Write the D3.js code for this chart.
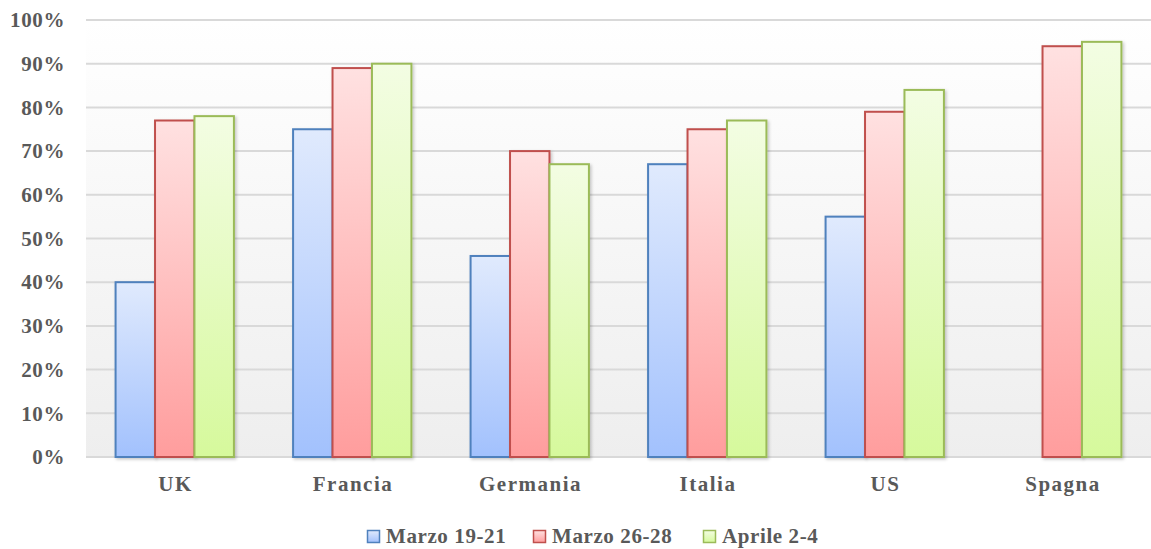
<!DOCTYPE html>
<html>
<head>
<meta charset="utf-8">
<script src="https://cdn.jsdelivr.net/npm/d3@7"></script>
<style>
  html, body { margin: 0; padding: 0; background: #ffffff; }
  svg { display: block; }
  .lbl { font-family: "Liberation Serif", "Times New Roman", "DejaVu Serif", serif; font-weight: bold; fill: #595959; font-size: 21px; letter-spacing: 0.6px; }
  .cat { letter-spacing: 1.5px; }
</style>
</head>
<body>
<svg id="chart" width="1151" height="549"></svg>
<script>
// Countries along the x axis
const categories = ["UK", "Francia", "Germania", "Italia", "US", "Spagna"];
// Survey waves (legend entries)
const seriesNames = ["Marzo 19-21", "Marzo 26-28", "Aprile 2-4"];
// Share of respondents per wave, in percent (null = not surveyed)
const marzo1921 = [40, 75, 46, 67, 55, null];
const marzo2628 = [77, 89, 70, 75, 79, 94];
const aprile24  = [78, 90, 67, 77, 84, 95];
// Y axis tick values, in percent
const yTicks = [0, 10, 20, 30, 40, 50, 60, 70, 80, 90, 100];

const seriesValues = [marzo1921, marzo2628, aprile24];
const palette = [
  { top: "#e0eafd", bottom: "#a2c1fd", stroke: "#4f81bd" },
  { top: "#ffe1e1", bottom: "#ff9d9d", stroke: "#c0504d" },
  { top: "#f3fde3", bottom: "#d6f99c", stroke: "#9bbb59" }
];

const svg = d3.select("#chart");
const margin = { left: 86, right: 0, top: 20, bottom: 92 };
const W = 1151, H = 549;
const plotW = W - margin.left - margin.right;
const plotH = H - margin.top - margin.bottom;

const defs = svg.append("defs");
const bg = defs.append("linearGradient").attr("id", "plotBg")
  .attr("x1", 0).attr("y1", 0).attr("x2", 0).attr("y2", 1);
bg.append("stop").attr("offset", "0%").attr("stop-color", "#ffffff");
bg.append("stop").attr("offset", "100%").attr("stop-color", "#eeeeee");

palette.forEach((p, i) => {
  const g = defs.append("linearGradient").attr("id", "barFill" + i)
    .attr("x1", 0).attr("y1", 0).attr("x2", 0).attr("y2", 1);
  g.append("stop").attr("offset", "0%").attr("stop-color", p.top);
  g.append("stop").attr("offset", "100%").attr("stop-color", p.bottom);
});

const shadow = defs.append("filter").attr("id", "barShadow")
  .attr("x", "-20%").attr("y", "-5%").attr("width", "140%").attr("height", "115%");
shadow.append("feDropShadow").attr("dx", 1.5).attr("dy", 1.5)
  .attr("stdDeviation", 1.5).attr("flood-color", "#000").attr("flood-opacity", 0.22);

const g = svg.append("g").attr("transform", `translate(${margin.left},${margin.top})`);

// Plot area background
g.append("rect").attr("x", 0).attr("y", 0).attr("width", plotW).attr("height", plotH)
  .attr("fill", "url(#plotBg)");

const y = d3.scaleLinear().domain([0, 100]).range([plotH, 0]);
const x = d3.scaleBand().domain(categories).range([0, plotW]).paddingInner(0).paddingOuter(0);

// Excel-like gap width of 150% between groups
const groupW = x.bandwidth();
const barW = groupW / (seriesNames.length + 1.5);
const xs = d3.scaleBand().domain(d3.range(seriesNames.length))
  .range([barW * 0.75, barW * 0.75 + barW * seriesNames.length]).padding(0);

// Gridlines
g.append("g").selectAll("line").data(yTicks).join("line")
  .attr("x1", 0).attr("x2", plotW)
  .attr("y1", d => y(d)).attr("y2", d => y(d))
  .attr("stroke", "#d9d9d9").attr("stroke-width", 2);

// Y axis labels
const yAxis = d3.axisLeft(y).tickValues(yTicks).tickFormat(d => d + "%").tickSize(0).tickPadding(21);
g.append("g").call(yAxis)
  .attr("font-family", null).attr("font-size", null)
  .call(a => a.select(".domain").remove())
  .selectAll("text").attr("class", "lbl").attr("fill", null);

// Bars
const groups = g.append("g").selectAll("g").data(categories).join("g")
  .attr("transform", d => `translate(${x(d)},0)`);

seriesValues.forEach((vals, si) => {
  groups.filter((d, ci) => vals[ci] != null)
    .append("rect")
    .attr("x", xs(si))
    .attr("width", xs.bandwidth())
    .attr("y", d => y(vals[categories.indexOf(d)]))
    .attr("height", d => plotH - y(vals[categories.indexOf(d)]))
    .attr("fill", `url(#barFill${si})`)
    .attr("stroke", palette[si].stroke)
    .attr("stroke-width", 2)
    .attr("filter", "url(#barShadow)");
});

// X axis labels
const xAxis = d3.axisBottom(x).tickSize(0).tickPadding(19);
g.append("g").attr("transform", `translate(0,${plotH})`).call(xAxis)
  .attr("font-family", null).attr("font-size", null)
  .call(a => a.select(".domain").remove())
  .selectAll("text").attr("class", "lbl cat").attr("fill", null).attr("dx", "0.75px");

// Legend
const legendX = [367, 533, 703];
const legend = svg.append("g").selectAll("g").data(seriesNames).join("g")
  .attr("transform", (d, i) => `translate(${legendX[i]},530)`);
legend.append("rect").attr("x", 0.5).attr("y", 0.5).attr("width", 12).attr("height", 12)
  .attr("fill", (d, i) => `url(#barFill${i})`)
  .attr("stroke", (d, i) => palette[i].stroke).attr("stroke-width", 1.5);
legend.append("text").attr("class", "lbl").attr("x", 19).attr("y", 13).text(d => d);
</script>
</body>
</html>
